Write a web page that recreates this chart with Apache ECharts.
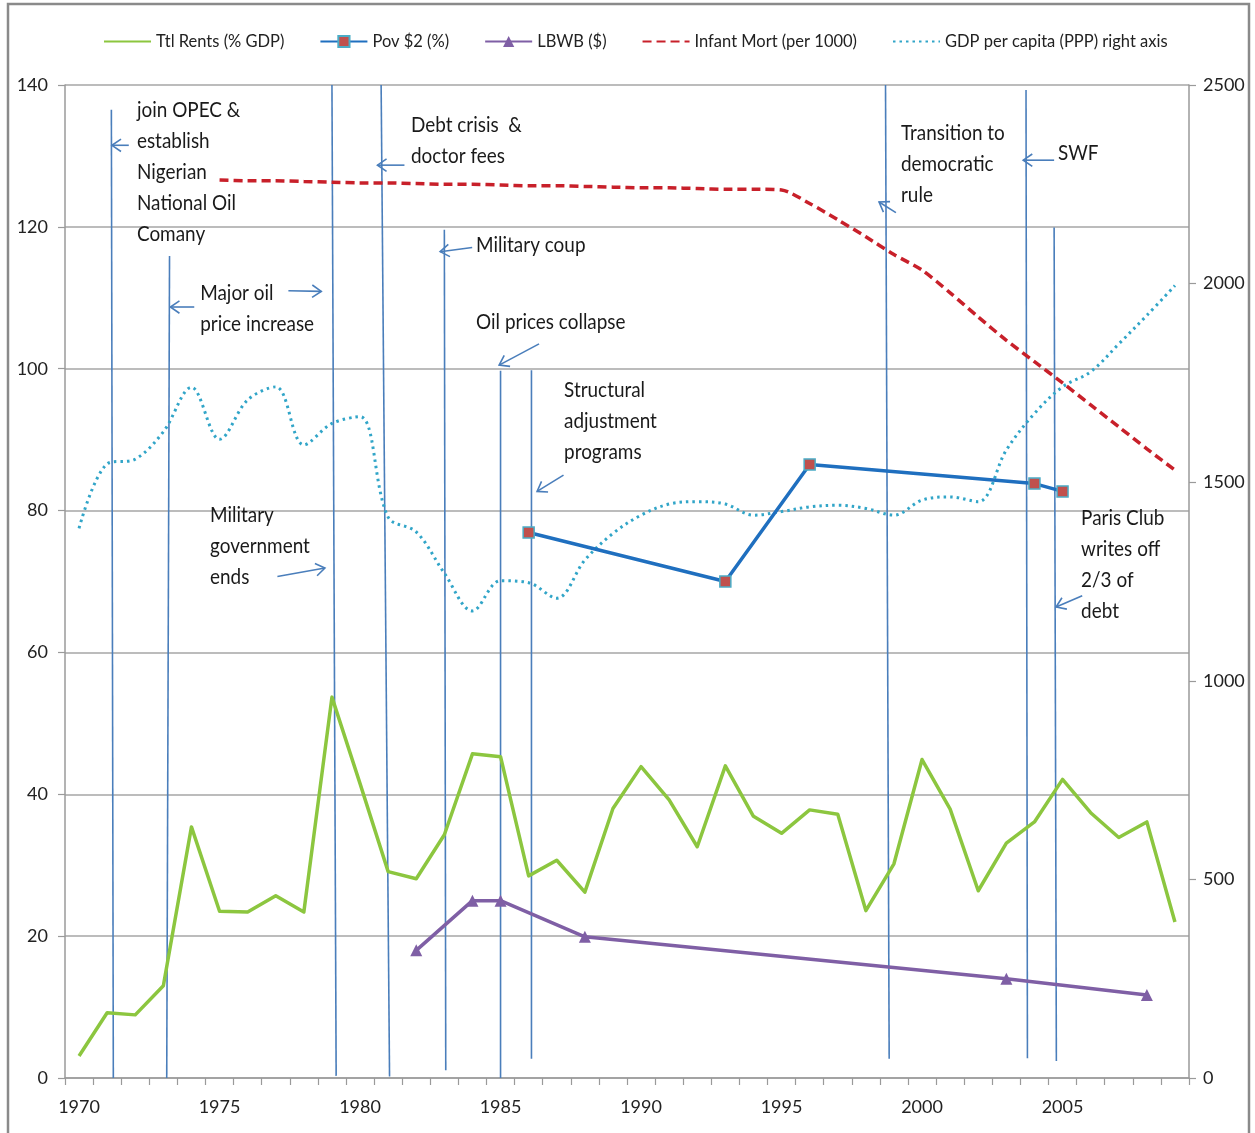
<!DOCTYPE html>
<html>
<head>
<meta charset="utf-8">
<script src="https://cdn.jsdelivr.net/npm/echarts@6/dist/echarts.min.js"></script>
<style>
html,body{margin:0;padding:0;background:#fff;overflow:hidden;}
#chart{width:1255px;height:1133px;}
</style>
</head>
<body>
<div id="chart"></div>
<script>
// ---------- DATA ----------
var years = [];
for (var yr = 1970; yr <= 2009; yr++) years.push(String(yr));
var xTickLabels = ['1970','1975','1980','1985','1990','1995','2000','2005'];

var seriesNames = ['Ttl Rents (% GDP)', 'Pov $2 (%)', 'LBWB ($)', 'Infant Mort (per 1000)', 'GDP per capita (PPP) right axis'];

// 1970..2009
var ttlRents = [3.1, 9.2, 8.9, 13.0, 35.4, 23.5, 23.4, 25.7, 23.4, 53.7,
                41.5, 29.1, 28.1, 34.3, 45.7, 45.3, 28.5, 30.7, 26.2, 38.0,
                43.9, 39.2, 32.6, 44.0, 36.9, 34.5, 37.8, 37.2, 23.6, 30.2,
                44.9, 37.9, 26.4, 33.1, 36.1, 42.1, 37.4, 33.9, 36.1, 22.0];

var pov2 = [null, null, null, null, null, null, null, null, null, null,
            null, null, null, null, null, null, 76.9, null, null, null,
            null, null, null, 70.0, null, null, 86.5, null, null, null,
            null, null, null, null, 83.8, 82.7, null, null, null, null];

var lbwb = [null, null, null, null, null, null, null, null, null, null,
            null, null, 18.0, null, 25.0, 25.0, null, null, 19.9, null,
            null, null, null, null, null, null, null, null, null, null,
            null, null, null, 14.0, null, null, null, null, 11.7, null];

var infantMort = [null, null, null, null, null, 126.6, 126.5, 126.5, 126.4, 126.3,
                  126.2, 126.2, 126.1, 126.0, 126.0, 125.9, 125.8, 125.8, 125.7, 125.6,
                  125.5, 125.5, 125.4, 125.3, 125.3, 125.2, 123.3, 121.0, 118.6, 116.1,
                  113.9, 110.7, 107.3, 104.0, 101.0, 98.0, 94.9, 91.8, 88.7, 85.7];

var gdpPpp = [1384, 1546, 1558, 1627, 1739, 1608, 1707, 1740, 1594, 1648,
              1665, 1412, 1375, 1271, 1176, 1252, 1247, 1208, 1304, 1371,
              1417, 1445, 1451, 1445, 1417, 1426, 1438, 1442, 1434, 1417,
              1455, 1463, 1451, 1581, 1673, 1740, 1778, 1848, 1920, 1995];

// Event marker lines: [yearTop, valueTop, yearBottom, valueBottom] (left-axis units)
var eventLines = [
  [1971.15, 136.5, 1971.22, 0],
  [1973.22, 115.9, 1973.12, 0],
  [1979.0, 140, 1979.15, 0.3],
  [1980.75, 140, 1981.05, 0.2],
  [1983.0, 119.6, 1983.05, 1.1],
  [1985.0, 99.7, 1985.0, 0],
  [1986.1, 99.8, 1986.1, 2.7],
  [1998.7, 140, 1998.83, 2.7],
  [2003.7, 139.3, 2003.75, 2.8],
  [2004.7, 119.9, 2004.78, 2.4]
];

// Arrows: [fromYear, fromValue, toYear, toValue]
var arrows = [
  [1971.77, 131.5, 1971.17, 131.5],
  [1974.1, 108.7, 1973.25, 108.7],
  [1977.45, 111.0, 1978.62, 110.9],
  [1981.58, 128.7, 1980.62, 128.7],
  [1983.99, 117.1, 1982.85, 116.5],
  [1986.37, 103.5, 1984.95, 100.5],
  [1987.24, 85.0, 1986.3, 82.7],
  [1977.06, 70.7, 1978.75, 71.9],
  [1999.07, 122.0, 1998.47, 123.5],
  [2004.7, 129.4, 2003.6, 129.4],
  [2005.7, 68.0, 2004.77, 66.4]
];

// Annotation texts, anchored at [year, value] (top-left of text block)
var noteTexts = [
  'join OPEC &\nestablish\nNigerian\nNational Oil\nComany',
  'Major oil\nprice increase',
  'Debt crisis  &\ndoctor fees',
  'Military coup',
  'Oil prices collapse',
  'Structural\nadjustment\nprograms',
  'Military\ngovernment\nends',
  'Transition to\ndemocratic\nrule',
  'SWF',
  'Paris Club\nwrites off\n2/3 of\ndebt'
];
var notePos = [
  [1972.06, 138.7],
  [1974.31, 112.9],
  [1981.81, 136.5],
  [1984.13, 119.6],
  [1984.13, 108.8],
  [1987.26, 99.2],
  [1974.66, 81.6],
  [1999.25, 135.4],
  [2004.84, 132.6],
  [2005.66, 81.1]
];

// ---------- CHART ----------
var FONT = "Lato, 'Open Sans', sans-serif";
var chart = echarts.init(document.getElementById('chart'), null, {renderer: 'canvas'});
var ANN = '#4a7ebb';

function renderEvent(params, api) {
  var p1 = api.coord([api.value(0), api.value(1)]);
  var p2 = api.coord([api.value(2), api.value(3)]);
  return {type: 'line', shape: {x1: p1[0], y1: p1[1], x2: p2[0], y2: p2[1]},
          style: {stroke: ANN, lineWidth: 1.6}, silent: true};
}
function renderArrow(params, api) {
  var p1 = api.coord([api.value(0), api.value(1)]);
  var p2 = api.coord([api.value(2), api.value(3)]);
  var ang = Math.atan2(p2[1] - p1[1], p2[0] - p1[0]);
  var L = 11, a = 0.6;
  var h1 = [p2[0] - L * Math.cos(ang - a), p2[1] - L * Math.sin(ang - a)];
  var h2 = [p2[0] - L * Math.cos(ang + a), p2[1] - L * Math.sin(ang + a)];
  return {type: 'group', silent: true, children: [
    {type: 'line', shape: {x1: p1[0], y1: p1[1], x2: p2[0], y2: p2[1]}, style: {stroke: ANN, lineWidth: 1.6}},
    {type: 'polyline', shape: {points: [h1, p2, h2]}, style: {stroke: ANN, lineWidth: 1.6, fill: null}}
  ]};
}
function renderNote(params, api) {
  var p = api.coord([api.value(0), api.value(1)]);
  return {type: 'text', x: p[0], y: p[1], scaleX: 0.88, silent: true,
          style: {text: noteTexts[params.dataIndex], fill: '#1a1a1a', font: "21.5px " + FONT,
                  lineHeight: 31, align: 'left', verticalAlign: 'top'}};
}

var hideSym = {opacity: 0};
var option = {
  animation: false,
  backgroundColor: '#ffffff',
  textStyle: {fontFamily: FONT},
  graphic: [{
    type: 'polyline', silent: true,
    shape: {points: [[8, 1133], [8, 4], [1249, 4], [1249, 1133]]},
    style: {stroke: '#8a8a8a', lineWidth: 2.5, fill: null}
  }],
  legend: {
    left: 103, top: 33, width: 1140, padding: 0,
    itemWidth: 47, itemHeight: 14, itemGap: 35,
    textStyle: {fontFamily: FONT, fontSize: 16.5, color: '#222'},
    data: [
      {name: seriesNames[0], itemStyle: hideSym},
      {name: seriesNames[1]},
      {name: seriesNames[2]},
      {name: seriesNames[3], itemStyle: hideSym},
      {name: seriesNames[4], itemStyle: hideSym}
    ]
  },
  grid: {left: 65, right: 66, top: 85, bottom: 55, containLabel: false, outerBoundsMode: 'none'},
  xAxis: [{
    type: 'category', data: years, boundaryGap: true,
    axisLine: {show: true, lineStyle: {color: '#9a9a9a', width: 1.5}},
    axisTick: {show: true, interval: 0, length: 7, lineStyle: {color: '#9a9a9a', width: 1.2}},
    axisLabel: {
      interval: 0, margin: 20, fontFamily: FONT, fontSize: 18, color: '#222',
      formatter: function (v) { return xTickLabels.indexOf(v) >= 0 ? v : ''; }
    },
    splitLine: {show: false}
  }, {
    type: 'value', show: false, min: 1969.5, max: 2009.5
  }],
  yAxis: [{
    type: 'value', min: 0, max: 140, interval: 20, position: 'left',
    axisLine: {show: true, lineStyle: {color: '#9a9a9a', width: 1.5}},
    axisTick: {show: true, length: 7, lineStyle: {color: '#9a9a9a', width: 1.2}},
    axisLabel: {margin: 17, fontFamily: FONT, fontSize: 18, color: '#222',
                formatter: function (v) { return String(v); }},
    splitLine: {show: true, lineStyle: {color: '#a6a6a6', width: 1.5}}
  }, {
    type: 'value', min: 0, max: 2500, interval: 500, position: 'right',
    axisLine: {show: true, lineStyle: {color: '#9a9a9a', width: 1.5}},
    axisTick: {show: true, length: 7, lineStyle: {color: '#9a9a9a', width: 1.2}},
    axisLabel: {margin: 14, fontFamily: FONT, fontSize: 18, color: '#222',
                formatter: function (v) { return String(v); }},
    splitLine: {show: false}
  }],
  series: [
    {
      name: 'events', type: 'custom', xAxisIndex: 1, yAxisIndex: 0, z: 1,
      renderItem: renderEvent, data: eventLines, clip: false,
      encode: {x: [0, 2], y: [1, 3]}
    },
    {
      name: 'arrows', type: 'custom', xAxisIndex: 1, yAxisIndex: 0, z: 1,
      renderItem: renderArrow, data: arrows, clip: false,
      encode: {x: [0, 2], y: [1, 3]}
    },
    {
      name: 'notes', type: 'custom', xAxisIndex: 1, yAxisIndex: 0, z: 5,
      renderItem: renderNote, data: notePos, clip: false,
      encode: {x: 0, y: 1}
    },
    {
      name: seriesNames[0], type: 'line', data: ttlRents, yAxisIndex: 0,
      symbol: 'none', z: 3,
      lineStyle: {color: '#8cc63f', width: 3.5, join: 'round'},
      itemStyle: {color: '#8cc63f'}
    },
    {
      name: seriesNames[1], type: 'line', data: pov2, yAxisIndex: 0, connectNulls: true,
      symbol: 'rect', symbolSize: 11, showAllSymbol: true, z: 4,
      lineStyle: {color: '#1f6fbf', width: 3.5},
      itemStyle: {color: '#c0504d', borderColor: '#4bacc6', borderWidth: 1.5}
    },
    {
      name: seriesNames[2], type: 'line', data: lbwb, yAxisIndex: 0, connectNulls: true,
      symbol: 'triangle', symbolSize: 12, showAllSymbol: true, z: 4,
      lineStyle: {color: '#7f5fa5', width: 3.5},
      itemStyle: {color: '#7f5fa5'}
    },
    {
      name: seriesNames[3], type: 'line', data: infantMort, yAxisIndex: 0,
      symbol: 'none', smooth: 0.25, z: 3,
      lineStyle: {color: '#c8202a', width: 3.5, type: [9, 5]},
      itemStyle: {color: '#c8202a'}
    },
    {
      name: seriesNames[4], type: 'line', data: gdpPpp, yAxisIndex: 1,
      symbol: 'none', smooth: 0.35, z: 3,
      lineStyle: {color: '#31a5c8', width: 3, type: [2.5, 4]},
      itemStyle: {color: '#31a5c8'}
    }
  ]
};
chart.setOption(option);
</script>
</body>
</html>
